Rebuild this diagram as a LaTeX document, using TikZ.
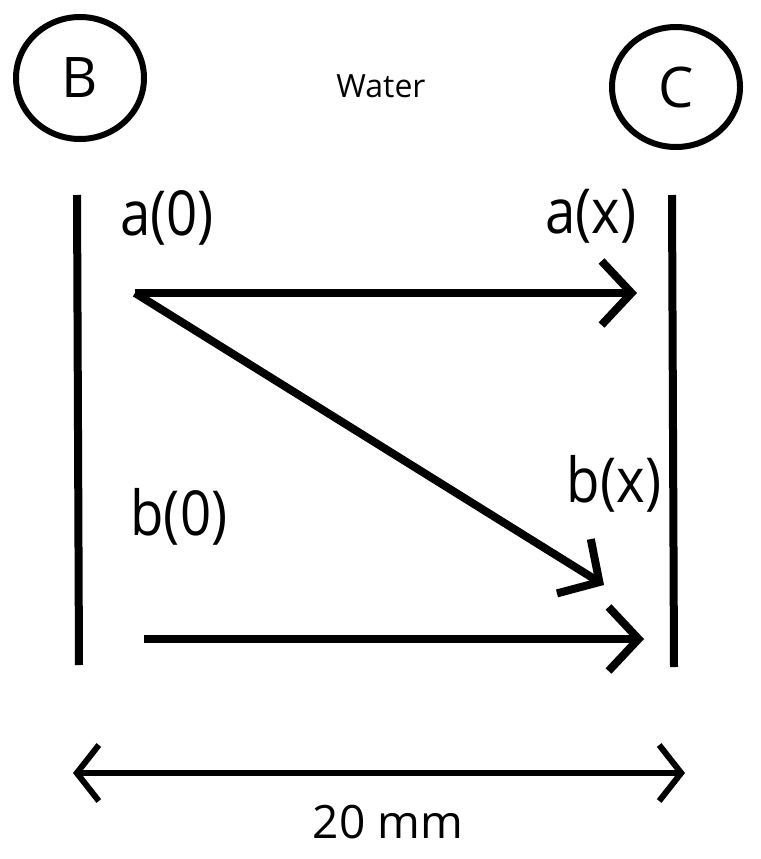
\documentclass[tikz,border=0pt]{standalone}
\usepackage{fontspec}
\setmainfont{Open Sans}
\newfontfamily\labfont[FakeStretch=0.88]{Open Sans}
\usetikzlibrary{arrows.meta,shapes.geometric}
\begin{document}
\begin{tikzpicture}[x=1pt,y=-1pt,
  wall/.style={line width=8pt, line cap=butt},
  flow/.style={line width=8pt, -{Straight Barb[length=30pt,width=64pt]}},
  dim/.style={line width=6pt, {Straight Barb[length=22pt,width=56pt]}-{Straight Barb[length=22pt,width=56pt]}},
  lab/.style={font=\labfont\fontsize{62}{72}\selectfont, anchor=base, inner sep=0pt},
  tank/.style={draw, ellipse, line width=6pt, inner sep=0pt, font=\fontsize{56}{66}\selectfont}]
\useasboundingbox (0,0) rectangle (760,859);
\node[tank, minimum width=128pt, minimum height=122pt] (B) at (80,78) {B};
\node[tank, minimum width=128pt, minimum height=120pt] (C) at (676,87) {C};
\node[font=\fontsize{32}{37}\selectfont, anchor=base, inner sep=0pt] (water) at (381,97) {Water};
\coordinate (L1) at (77,195); \coordinate (L2) at (79,665);
\coordinate (R1) at (672,195); \coordinate (R2) at (674,667);
\draw[wall] (L1) -- (L2);
\draw[wall] (R1) -- (R2);
\node[lab] (la0) at (167,235) {a(0)};
\node[lab] (lax) at (591,233) {a(x)};
\node[lab] (lb0) at (179,535) {b(0)};
\node[lab] (lbx) at (614,502) {b(x)};
\coordinate (a0) at (135,293); \coordinate (ax) at (637,293);
\coordinate (bxd) at (604,585);
\coordinate (b0) at (144,639); \coordinate (bx) at (644,639);
\draw[flow] (a0) -- (ax);
\draw[flow] (a0) -- (bxd);
\draw[flow] (b0) -- (bx);
\coordinate (D1) at (73,773); \coordinate (D2) at (685,773);
\draw[dim] (D1) -- (D2);
\node[font=\fontsize{46}{54}\selectfont, anchor=base, inner sep=0pt] (dimlab) at (388,838) {20 mm};
\end{tikzpicture}
\end{document}
